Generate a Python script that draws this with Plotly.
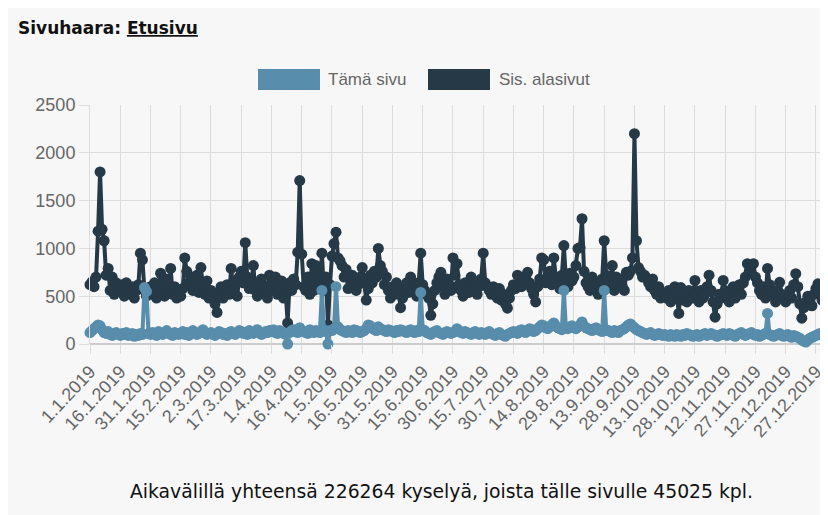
import plotly.graph_objects as go
import pandas as pd

# Categories: every day of 2019
days = [f"{d.day}.{d.month}.{d.year}" for d in pd.date_range("2019-01-01", "2019-12-31")]

tick_labels = ["1.1.2019", "16.1.2019", "31.1.2019", "15.2.2019", "2.3.2019", "17.3.2019",
               "1.4.2019", "16.4.2019", "1.5.2019", "16.5.2019", "31.5.2019", "15.6.2019",
               "30.6.2019", "15.7.2019", "30.7.2019", "14.8.2019", "29.8.2019", "13.9.2019",
               "28.9.2019", "13.10.2019", "28.10.2019", "12.11.2019", "27.11.2019",
               "12.12.2019", "27.12.2019"]
y_ticks = [0, 500, 1000, 1500, 2000, 2500]

# Sis. alasivut (dark series)
sis_alasivut = [
    620, 650, 600, 700, 1180, 1800, 1200, 1080, 720, 790, 560, 700, 520, 640, 580,
    560, 620, 500, 640, 580, 520, 600, 480, 560, 620, 950, 880, 560, 500, 540,
    600, 520, 640, 480, 560, 740, 620, 500, 680, 560, 790, 520, 600, 480, 560,
    500, 580, 900, 760, 640, 700, 560, 620, 720, 540, 800, 600, 520, 660, 480,
    560, 500, 420, 330, 540, 600, 480, 560, 620, 520, 790, 580, 640, 500, 700,
    760, 640, 1060, 700, 580, 640, 820, 560, 500, 620, 680, 540, 600, 480, 720,
    640, 560, 700, 520, 600, 660, 480, 560, 220, 640, 560, 680, 620, 960, 1710,
    940, 600, 560, 700, 520, 840, 560, 820, 680, 600, 950, 560, 700, 200, 620,
    920, 1050, 1170, 900, 870, 820, 700, 780, 580, 600, 720, 680, 560, 620, 700,
    800, 640, 460, 580, 720, 640, 760, 700, 1000, 820, 760, 620, 700, 560, 480,
    600, 520, 640, 560, 380, 480, 600, 640, 540, 700, 560, 620, 500, 640, 950,
    620, 560, 520, 480, 300, 420, 560, 640, 700, 750, 600, 520, 680, 620, 560,
    900, 720, 840, 620, 560, 500, 640, 600, 540, 700, 580, 620, 520, 600, 680,
    950, 640, 600, 560, 520, 600, 540, 480, 580, 460, 520, 420, 375, 480, 560,
    620, 580, 720, 640, 600, 680, 700, 750, 640, 580, 520, 440, 600, 680, 900,
    880, 640, 700, 760, 620, 900, 700, 640, 580, 720, 1030, 680, 600, 740, 660,
    700, 820, 1000, 1010, 1310, 760, 640, 600, 560, 700, 580, 640, 520, 600, 680,
    1080, 720, 600, 640, 820, 560, 700, 620, 680, 600, 560, 750, 720, 760, 900,
    2200, 1080, 800, 760, 700, 720, 690, 640, 600, 680, 560, 520, 600, 480, 530,
    520, 480, 560, 440, 500, 600, 520, 320, 590, 460, 520, 440, 560, 500, 480,
    665, 520, 440, 560, 480, 520, 600, 720, 560, 440, 280, 420, 520, 480, 665,
    560, 500, 440, 520, 600, 480, 560, 620, 520, 640, 700, 840, 760, 820, 840,
    700, 640, 560, 520, 600, 480, 790, 620, 560, 500, 440, 560, 645, 520, 480,
    440, 520, 560, 480, 620, 735, 600, 420, 270, 380, 440, 500, 460, 400, 520,
    580, 630, 540, 460, 500,
]

# Tämä sivu (light series)
tama_sivu = [
    120, 140, 160, 180, 200, 190, 150, 120, 110, 130, 100, 90, 110, 120, 100,
    90, 110, 100, 120, 90, 100, 110, 80, 100, 90, 110, 100, 590, 550, 110,
    100, 120, 110, 90, 130, 110, 100, 120, 140, 110, 100, 90, 120, 110, 100,
    110, 130, 100, 120, 90, 110, 140, 120, 100, 110, 130, 150, 120, 100, 110,
    120, 100, 90, 110, 130, 120, 100, 110, 90, 120, 130, 110, 100, 120, 140,
    130, 110, 120, 100, 140, 120, 110, 130, 150, 120, 100, 110, 130, 120, 140,
    130, 150, 120, 110, 140, 130, 110, 100, 0, 120, 140, 150, 130, 120, 170,
    140, 130, 120, 110, 150, 130, 120, 140, 130, 120, 560, 150, 130, 0, 140,
    140, 160, 600, 180, 150, 140, 130, 120, 140, 130, 120, 150, 140, 130, 120,
    130, 140, 160, 200, 190, 170, 150, 140, 180, 160, 150, 140, 130, 150, 140,
    130, 120, 140, 130, 150, 140, 130, 120, 140, 150, 130, 120, 140, 130, 540,
    150, 140, 120, 110, 100, 120, 130, 140, 120, 110, 100, 120, 130, 120, 110,
    120, 130, 160, 140, 120, 110, 130, 120, 110, 100, 120, 130, 110, 100, 120,
    110, 100, 120, 130, 110, 100, 90, 110, 120, 100, 90, 80, 100, 110, 120,
    130, 120, 110, 140, 150, 130, 120, 140, 160, 150, 130, 140, 160, 180, 200,
    190, 170, 160, 180, 200, 220, 190, 170, 160, 150, 560, 170, 160, 180, 190,
    170, 160, 180, 200, 230, 190, 170, 160, 150, 140, 160, 170, 150, 140, 130,
    560, 150, 140, 130, 120, 140, 130, 120, 140, 150, 160, 180, 200, 210, 190,
    170, 150, 140, 130, 120, 110, 100, 110, 120, 100, 90, 100, 110, 100, 90,
    100, 90, 80, 100, 90, 80, 100, 90, 80, 100, 90, 110, 100, 90, 80,
    90, 100, 80, 90, 100, 110, 90, 100, 110, 100, 90, 80, 90, 100, 110,
    100, 90, 110, 100, 90, 80, 100, 110, 120, 100, 90, 100, 110, 120, 100,
    90, 100, 80, 90, 100, 110, 320, 100, 90, 80, 90, 100, 110, 90, 80,
    90, 100, 80, 70, 90, 80, 70, 60, 40, 30, 20, 40, 60, 70, 80,
    90, 100, 110, 90, 100,
]

LIGHT = "rgb(88,141,172)"
DARK = "rgb(37,57,71)"
BG = "#f7f7f7"
GRID = "#dcdcdc"
TXT = "#666666"

idx = list(range(len(days)))

fig = go.Figure()
fig.add_trace(go.Scatter(
    x=idx, y=sis_alasivut, mode="lines+markers", name="Sis. alasivut", cliponaxis=False,
    line=dict(color=DARK, width=4), marker=dict(color=DARK, size=11),
    customdata=days, hovertemplate="%{customdata}: %{y}<extra></extra>"))
fig.add_trace(go.Scatter(
    x=idx, y=tama_sivu, mode="lines+markers", name="Tämä sivu", cliponaxis=False,
    line=dict(color=LIGHT, width=4), marker=dict(color=LIGHT, size=11),
    customdata=days, hovertemplate="%{customdata}: %{y}<extra></extra>"))

# page is offset by the 8px body margin
OFF = 8
W, H = 820, 507
L, R, T, B = 90 - OFF, 4, 105 - OFF, H - (344 - OFF)
pw, ph = W - L - R, H - T - B

def px(X):
    return (X - OFF - L) / pw

def py(Y):
    return (H - B - (Y - OFF)) / ph

shapes = [
    dict(type="rect", xref="paper", yref="paper", x0=px(258), x1=px(320), y0=py(90), y1=py(69),
         fillcolor=LIGHT, line=dict(width=0)),
    dict(type="rect", xref="paper", yref="paper", x0=px(428), x1=px(490), y0=py(90), y1=py(69),
         fillcolor=DARK, line=dict(width=0)),
]
annotations = [
    dict(xref="paper", yref="paper", x=px(326), y=py(79.5), xanchor="left", yanchor="middle",
         text="Tämä sivu", showarrow=False, font=dict(family="Liberation Sans, Arial", size=17, color=TXT)),
    dict(xref="paper", yref="paper", x=px(497), y=py(79.5), xanchor="left", yanchor="middle",
         text="Sis. alasivut", showarrow=False, font=dict(family="Liberation Sans, Arial", size=17, color=TXT)),
    dict(xref="paper", yref="paper", x=px(16), y=py(28), xanchor="left", yanchor="middle",
         text="<b>Sivuhaara: <u>Etusivu</u></b>", showarrow=False,
         font=dict(family="DejaVu Sans, Verdana", size=17, color="#111111")),
    dict(xref="paper", yref="paper", x=px(441), y=py(491), xanchor="center", yanchor="middle",
         text="Aikavälillä yhteensä 226264 kyselyä, joista tälle sivulle 45025 kpl.", showarrow=False,
         font=dict(family="DejaVu Sans, Verdana", size=18.8, color="#111111")),
]

fig.update_layout(
    width=W, height=H,
    margin=dict(l=L, r=R, t=T, b=B, autoexpand=False),
    paper_bgcolor=BG, plot_bgcolor=BG,
    showlegend=False,
    shapes=shapes, annotations=annotations,
    xaxis=dict(range=[0, len(days) - 1], tickmode="array",
               tickvals=[i * 15 for i in range(len(tick_labels))], ticktext=tick_labels,
               tickangle=-47, tickfont=dict(family="Liberation Sans, Arial", size=18, color=TXT),
               showgrid=True, gridcolor=GRID, gridwidth=1, ticks="outside", ticklen=9, tickcolor=GRID,
               showline=False, zeroline=False),
    yaxis=dict(range=[0, 2500], tickmode="array", tickvals=y_ticks,
               tickfont=dict(family="Liberation Sans, Arial", size=18, color=TXT),
               showgrid=True, gridcolor=GRID, gridwidth=1, ticks="outside", ticklen=10, tickcolor=GRID,
               zeroline=True, zerolinecolor="#cccccc", zerolinewidth=1.5,
               showline=True, linecolor=GRID, linewidth=1),
)

fig.write_html("out.html")
